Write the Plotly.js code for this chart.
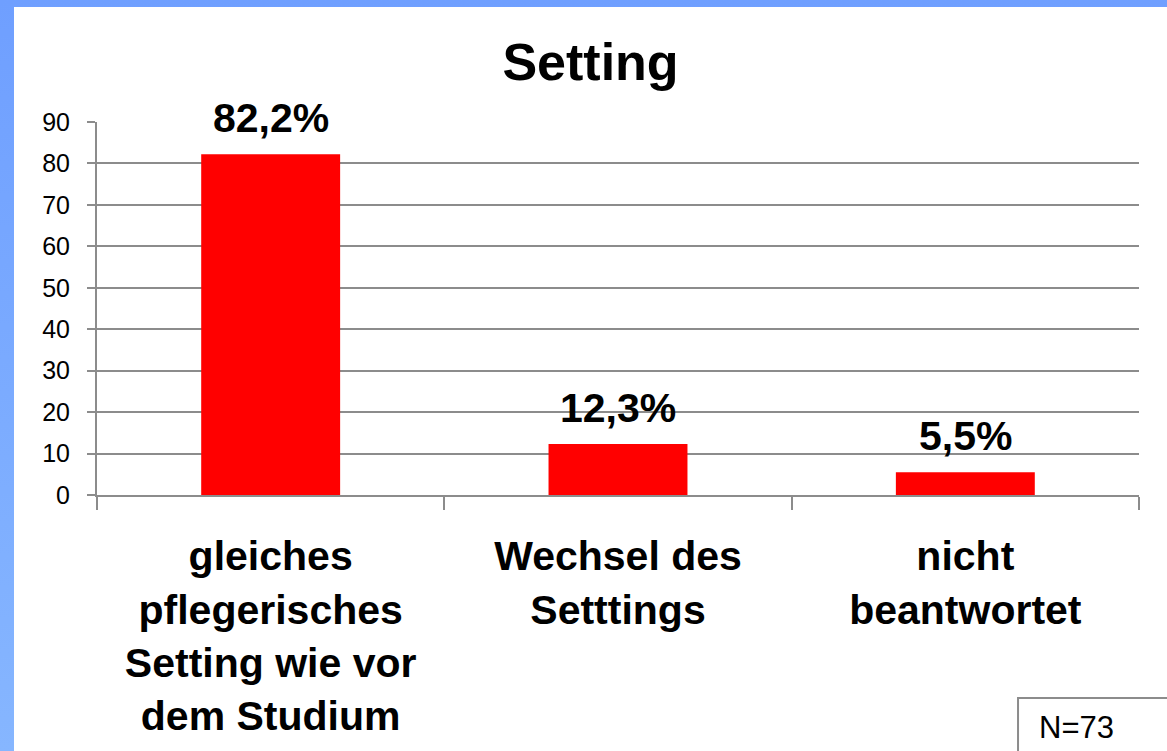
<!DOCTYPE html>
<html>
<head>
<meta charset="utf-8">
<script src="https://cdn.plot.ly/plotly-3.0.1.min.js"></script>
<style>
  html, body { margin: 0; padding: 0; width: 1167px; height: 751px; overflow: hidden;
    background: linear-gradient(180deg, #6f9fff 0%, #86b6ff 100%); }
  #chart { position: absolute; left: 14px; top: 7px; width: 1153px; height: 744px; background: #ffffff; }
</style>
</head>
<body>
<div id="chart"></div>
<script>
const categories = [
  "gleiches<br>pflegerisches<br>Setting wie vor<br>dem Studium",
  "Wechsel des<br>Setttings",
  "nicht<br>beantwortet"
];
const values = [82.2, 12.3, 5.5];
const yTickValues = [0, 10, 20, 30, 40, 50, 60, 70, 80, 90];
const titleText = "Setting";
const noteText = "N=73";

const fmt = v => v.toFixed(1).replace('.', ',') + '%';
const FONT = 'Liberation Sans, Arial, sans-serif';
const grid = '#8c8c8c';

const trace = {
  type: 'bar',
  x: categories,
  y: values,
  marker: { color: '#ff0000', line: { width: 0 } },
  width: 0.4,
  hoverinfo: 'none'
};

const annotations = categories.map((c, i) => ({
  x: c, y: values[i], xref: 'x', yref: 'y',
  text: '<b>' + fmt(values[i]) + '</b>',
  showarrow: false, yanchor: 'bottom', yshift: 11,
  font: { family: FONT, size: 41, color: '#000' }
}));
annotations.push({
  xref: 'paper', yref: 'paper', x: 0.902, y: -0.622, xanchor: 'left', yanchor: 'middle',
  text: noteText, showarrow: false,
  font: { family: FONT, size: 31, color: '#000' }
});

const layout = {
  width: 1153, height: 744,
  margin: { l: 83, r: 28, t: 115, b: 256 },
  paper_bgcolor: '#ffffff', plot_bgcolor: '#ffffff',
  title: { text: '<b>' + titleText + '</b>', x: 0.5, xanchor: 'center', y: 0.926, yanchor: 'middle', yref: 'container',
    font: { family: FONT, size: 52, color: '#000' } },
  showlegend: false,
  xaxis: {
    type: 'category', tickson: 'boundaries', ticks: 'outside', ticklen: 13, tickwidth: 2, tickcolor: grid,
    showline: true, linecolor: grid, linewidth: 2, showgrid: false,
    ticklabelstandoff: 24,
    tickfont: { family: FONT, size: 41, color: '#000', weight: 'bold' }
  },
  yaxis: {
    range: [0, 90], tickvals: yTickValues, ticktext: yTickValues.map(String),
    ticks: 'outside', ticklen: 8, tickwidth: 2, tickcolor: grid,
    showgrid: true, gridcolor: grid, gridwidth: 2,
    showline: true, linecolor: grid, linewidth: 2, zeroline: false,
    ticklabelstandoff: 12,
    tickfont: { family: FONT, size: 25, color: '#000' }
  },
  annotations: annotations,
  shapes: [{
    type: 'rect', xref: 'paper', yref: 'paper', x0: 0.8839, x1: 1.2, y0: -0.544, y1: -0.8,
    line: { color: grid, width: 2 }, fillcolor: 'rgba(0,0,0,0)'
  }]
};

Plotly.newPlot('chart', [trace], layout, { displayModeBar: false, staticPlot: true });
</script>
</body>
</html>
